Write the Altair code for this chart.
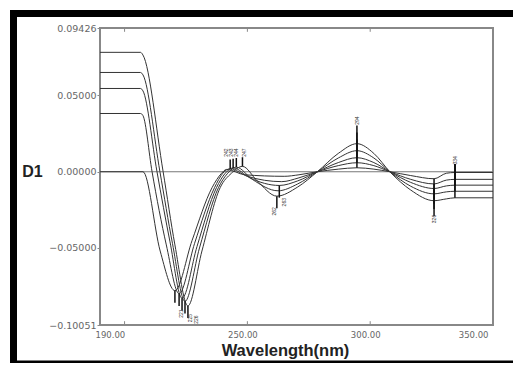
import altair as alt
import pandas as pd

# ---- curve data (wavelength nm, first-derivative value) ----
wl_c1 = [190, 206.5, 207.5, 215.7, 220.5, 225.8, 231.5, 238.9, 243.5, 248, 254, 262, 270.5, 278.5, 287, 294.6, 301.5, 308, 316.5, 326, 331, 334.5, 350]
v_c1 = [0.0783, 0.0783, 0.0765, 0.0, -0.048, -0.088, -0.052, -0.0105, -0.001, 0.0035, -0.006, -0.016, -0.010, 0.0, 0.012, 0.0184, 0.012, 0.0, -0.012, -0.019, -0.0178, -0.0171, -0.0171]

wl_c2 = [190, 206.5, 207.5, 214.4, 219.5, 224.6, 230.5, 238.2, 242, 245.5, 252, 262.5, 270.5, 278.5, 287, 294.6, 301.5, 308, 316.5, 326, 331, 334.5, 350]
v_c2 = [0.0651, 0.0651, 0.0635, 0.0, -0.047, -0.085, -0.050, -0.0105, -0.001, 0.003, -0.005, -0.0125, -0.008, 0.0, 0.009, 0.0138, 0.009, 0.0, -0.0095, -0.0145, -0.0132, -0.0128, -0.0128]

wl_c3 = [190, 206.5, 207.5, 213.2, 218.5, 223.4, 229.5, 237.4, 241, 244.2, 251, 263, 270.5, 278.5, 287, 294.6, 301.5, 308, 316.5, 326, 331, 334.5, 350]
v_c3 = [0.0546, 0.0546, 0.053, 0.0, -0.046, -0.083, -0.049, -0.0105, -0.001, 0.0025, -0.004, -0.009, -0.006, 0.0, 0.006, 0.0092, 0.006, 0.0, -0.007, -0.011, -0.0093, -0.0088, -0.0088]

wl_c4 = [190, 206.5, 207.5, 211.2, 217, 222.2, 228.5, 236.6, 240, 243, 250, 264, 271, 278.5, 287, 294.6, 301.5, 308, 316.5, 326, 331, 334.5, 350]
v_c4 = [0.0382, 0.0382, 0.0368, 0.0, -0.048, -0.080, -0.047, -0.0105, -0.001, 0.002, -0.003, -0.0065, -0.004, 0.0, 0.004, 0.0059, 0.004, 0.0, -0.005, -0.008, -0.0055, -0.005, -0.005]

wl_c5 = [190, 207.5, 214.5, 220.5, 227.5, 235.6, 239.5, 241.5, 249, 265, 271, 278.5, 287, 294.6, 301.5, 308, 316.5, 326, 331, 334.5, 350]
v_c5 = [0.0, 0.0, -0.052, -0.078, -0.045, -0.0105, -0.001, 0.0015, -0.002, -0.003, -0.002, 0.0, 0.0017, 0.0026, 0.0017, 0.0, -0.0025, -0.0046, -0.001, -0.0005, -0.0005]

# ---- peak-pick markers: position, start value, end value ----
mk_wl = [225.8, 224.6, 223.4, 222.2, 220.5,
         248, 245.5, 244.2, 243,
         262, 263,
         294.6, 294.6, 294.6, 294.6, 294.6,
         326, 326, 326, 326, 326,
         334.5, 334.5, 334.5, 334.5, 334.5]
mk_v1 = [-0.088, -0.085, -0.083, -0.080, -0.078,
         0.0035, 0.003, 0.0025, 0.002,
         -0.016, -0.009,
         0.0184, 0.0138, 0.0092, 0.0059, 0.0026,
         -0.019, -0.0145, -0.011, -0.008, -0.0046,
         -0.0171, -0.0128, -0.0088, -0.005, -0.0005]
mk_v2 = [-0.096, -0.093, -0.091, -0.088, -0.086,
         0.0095, 0.009, 0.0085, 0.008,
         -0.024, -0.017,
         0.0304, 0.0258, 0.0212, 0.0179, 0.0146,
         -0.029, -0.0245, -0.021, -0.018, -0.0146,
         0.005, 0.005, 0.005, 0.005, 0.005]

# ---- small marker labels ----
lb_wl = [223.0, 226.5, 229.0, 241.5, 243.5, 245.5, 248.5, 261, 265, 294.6, 326, 334.5]
lb_v = [-0.093, -0.096, -0.097, 0.0125, 0.0125, 0.0125, 0.0125, -0.026, -0.020, 0.0335, -0.031, 0.0075]
lb_t = ["221", "225", "226", "242", "243", "244", "247", "262", "263", "294", "326", "334"]

# ---- axis ticks ----
x_label_vals = [190, 250, 300, 350]
y_label_vals = [-0.10051, -0.05, 0.0, 0.05, 0.09426]
x_inner_ticks = [200, 250, 300]

rows = []
for name, wls, vs in [("1", wl_c1, v_c1), ("2", wl_c2, v_c2), ("3", wl_c3, v_c3),
                      ("4", wl_c4, v_c4), ("5", wl_c5, v_c5)]:
    for i, (w, v) in enumerate(zip(wls, vs)):
        rows.append({"curve": name, "wl": w, "v": v, "order": i})
curves = pd.DataFrame(rows)
markers = pd.DataFrame({"wl": mk_wl, "v1": mk_v1, "v2": mk_v2})
labels = pd.DataFrame({"wl": lb_wl, "v": lb_v, "t": lb_t})

YMIN, YMAX = -0.10051, 0.09426
xs = alt.Scale(domain=[190, 350], nice=False, zero=False)
ys = alt.Scale(domain=[YMIN, YMAX], nice=False, zero=False)

FONT = "Liberation Sans"
LFONT = "DejaVu Sans"

x_axis = alt.Axis(values=x_label_vals, format=".2f", labelFontSize=8.5, labelColor="#666",
                  labelFont=LFONT, tickSize=0, labelPadding=5, labelOffset=-5,
                  domain=False, grid=False,
                  title="Wavelength(nm)", titleFont=FONT, titleFontSize=16.5,
                  titleFontWeight="bold", titleColor="#222", titleX=185, titleY=25,
                  titleBaseline="middle", titleAlign="center")
y_axis = alt.Axis(values=y_label_vals, format=".5f", labelFontSize=9.5, labelColor="#666",
                  labelFont=LFONT, tickSize=3, tickColor="#888", labelPadding=1,
                  domain=False, grid=False, title="D1", titleAngle=0, titleX=-68,
                  titleY=143, titleFont=FONT, titleFontSize=16, titleFontWeight="bold",
                  titleColor="#222", titleAlign="center", titleBaseline="middle")

lines = alt.Chart(curves).mark_line(interpolate="monotone", color="#333", strokeWidth=1).encode(
    x=alt.X("wl:Q", scale=xs, axis=x_axis),
    y=alt.Y("v:Q", scale=ys, axis=y_axis),
    detail="curve:N",
    order="order:Q",
)

zero = alt.Chart(pd.DataFrame({"v": [0.0]})).mark_rule(color="#777", strokeWidth=1.2).encode(
    y=alt.Y("v:Q", scale=ys)
)

ticks_df = pd.DataFrame({"wl": x_inner_ticks * 2,
                         "a": [YMIN] * 3 + [YMAX] * 3,
                         "b": [YMIN + 0.0025] * 3 + [YMAX - 0.0025] * 3})
inner_ticks = alt.Chart(ticks_df).mark_rule(color="#888", strokeWidth=1).encode(
    x=alt.X("wl:Q", scale=xs), y=alt.Y("a:Q", scale=ys), y2="b:Q"
)

mk = alt.Chart(markers).mark_rule(color="#111", strokeWidth=1.5).encode(
    x=alt.X("wl:Q", scale=xs), y=alt.Y("v1:Q", scale=ys), y2="v2:Q"
)

lbl = alt.Chart(labels).mark_text(fontSize=5, angle=270, color="#333", font=FONT).encode(
    x=alt.X("wl:Q", scale=xs), y=alt.Y("v:Q", scale=ys), text="t:N"
)

one = pd.DataFrame({"k": [0]})
def bar(x1, x2, y1, y2):
    return alt.Chart(one).mark_rect(color="black").encode(
        x=alt.value(x1), x2=alt.value(x2), y=alt.value(y1), y2=alt.value(y2))

# decorative black picture frame (thick top/left, thin bottom)
frame = bar(-90, -83, -18, 335) + bar(-90, 413, -18, -11) + bar(-90, 413, 332.5, 335)

chart = alt.layer(zero, inner_ticks, lines, mk, lbl, frame).properties(
    width=393, height=297,
    autosize=alt.AutoSizeParams(type="none"),
    padding={"left": 92, "top": 20, "right": 20, "bottom": 38},
    background="white",
).configure_view(stroke="#888", strokeWidth=2)

chart.save("out.html", embed_options={"renderer": "svg", "actions": False})
